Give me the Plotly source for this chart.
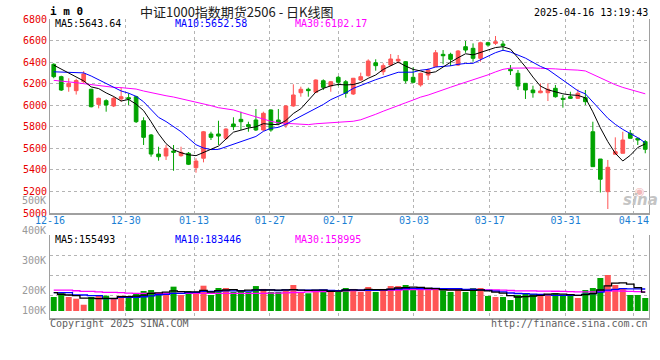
import plotly.graph_objects as go
import pandas as pd

# ---------------- data ----------------
dates = ["12-16", "12-17", "12-18", "12-19", "12-20", "12-23", "12-24", "12-25", "12-26", "12-27",
         "12-30", "12-31", "01-02", "01-03", "01-06", "01-07", "01-08", "01-09", "01-10", "01-13",
         "01-14", "01-15", "01-16", "01-17", "01-20", "01-21", "01-22", "01-23", "01-24", "01-27",
         "02-05", "02-06", "02-07", "02-10", "02-11", "02-12", "02-13", "02-14", "02-17", "02-18",
         "02-19", "02-20", "02-21", "02-24", "02-25", "02-26", "02-27", "02-28", "03-03", "03-04",
         "03-05", "03-06", "03-07", "03-10", "03-11", "03-12", "03-13", "03-14", "03-17", "03-18",
         "03-19", "03-20", "03-21", "03-24", "03-25", "03-26", "03-27", "03-28", "03-31", "04-01",
         "04-02", "04-03", "04-07", "04-08", "04-09", "04-10", "04-11", "04-14", "04-15", "04-16"]

open_ = [6380, 6265, 6172, 6135, 6218, 6148, 6008, 6042, 5993, 6058,
         6070, 6079, 5856, 5724, 5547, 5529, 5575, 5532, 5554, 5420,
         5508, 5733, 5733, 5693, 5826, 5869, 5820, 5863, 5770, 5956,
         5863, 5816, 5993, 6116, 6148, 6120, 6227, 6178, 6259, 6218,
         6104, 6234, 6274, 6394, 6311, 6373, 6410, 6404, 6259, 6188,
         6280, 6357, 6472, 6472, 6373, 6543, 6528, 6435, 6580, 6574,
         6568, 6333, 6296, 6203, 6141, 6116, 6116, 6157, 6064, 6079,
         6064, 6070, 5754, 5501, 5198, 5545, 5554, 5739, 5693, 5662]
high_ = [6389, 6274, 6250, 6245, 6317, 6152, 6070, 6055, 6079, 6166,
         6111, 6088, 5888, 5733, 5615, 5631, 5631, 5615, 5566, 5508,
         5761, 5754, 5856, 5786, 5888, 5940, 5847, 5965, 5940, 5962,
         5965, 6002, 6194, 6172, 6163, 6240, 6240, 6225, 6271, 6234,
         6253, 6302, 6426, 6426, 6389, 6475, 6466, 6410, 6352, 6302,
         6343, 6512, 6512, 6487, 6512, 6596, 6574, 6589, 6589, 6642,
         6596, 6373, 6327, 6203, 6181, 6203, 6203, 6188, 6095, 6125,
         6148, 6141, 5847, 5501, 5492, 5702, 5754, 5770, 5693, 5677]
low_ = [6250, 6132, 6125, 6099, 6203, 5980, 5971, 5940, 5983, 6033,
        6002, 5835, 5631, 5522, 5485, 5492, 5392, 5522, 5445, 5374,
        5470, 5677, 5631, 5677, 5770, 5770, 5754, 5761, 5761, 5754,
        5816, 5791, 5986, 6079, 6079, 6116, 6141, 6125, 6178, 6070,
        6095, 6227, 6265, 6320, 6280, 6364, 6389, 6203, 6203, 6172,
        6234, 6355, 6380, 6364, 6364, 6487, 6404, 6404, 6543, 6559,
        6506, 6280, 6141, 6058, 6070, 6111, 6039, 6070, 5977, 6058,
        6058, 6002, 5427, 5190, 5037, 5545, 5554, 5693, 5631, 5554]
close_ = [6265, 6141, 6203, 6229, 6290, 5986, 6064, 6002, 6064, 6079,
          6058, 5847, 5702, 5547, 5522, 5600, 5563, 5563, 5452, 5482,
          5754, 5702, 5714, 5779, 5801, 5847, 5801, 5770, 5925, 5770,
          5832, 5993, 6095, 6148, 6135, 6234, 6166, 6218, 6213, 6111,
          6250, 6265, 6410, 6367, 6367, 6429, 6426, 6227, 6213, 6296,
          6327, 6487, 6459, 6426, 6503, 6512, 6435, 6580, 6559, 6589,
          6552, 6320, 6178, 6141, 6116, 6132, 6148, 6079, 6055, 6064,
          6111, 6033, 5430, 5313, 5424, 5569, 5677, 5693, 5677, 5591]
volume_k = [116, 147, 116, 102, 52, 116, 127, 127, 102, 127,
            116, 147, 166, 174, 147, 147, 202, 133, 166, 147,
            210, 133, 191, 191, 158, 166, 158, 207, 183, 158,
            158, 174, 216, 158, 147, 174, 174, 166, 166, 191,
            183, 158, 199, 158, 183, 207, 207, 216, 174, 174,
            174, 191, 174, 158, 174, 158, 191, 191, 125, 116,
            116, 91, 133, 141, 141, 141, 141, 149, 125, 125,
            108, 174, 191, 274, 299, 216, 191, 133, 133, 108]

# moving-average values at the left edge (their windows start before the chart)
ma5_head = [6372, 6335, 6298, 6262]
ma10_head = [6310, 6308, 6306, 6304, 6300, 6271, 6235, 6198, 6162]
ma30_head = [6231, 6225, 6215, 6209, 6200, 6190, 6181, 6172, 6166, 6163,
             6160, 6150, 6132, 6116, 6101, 6088, 6076, 6061, 6046, 6030,
             6014, 5996, 5977, 5968, 5956, 5934, 5912, 5894, 5872]
vma5_head = [152, 139, 133, 127]
vma10_head = [152, 152, 152, 133, 133, 127, 127, 102, 102]
vma30_head = [174, 174, 174, 168, 163, 163, 158, 155, 155, 152,
              149, 147, 147, 147, 147, 147, 147, 147, 147, 147,
              147, 147, 147, 147, 147, 147, 147, 147, 147]

tick_labels = ["12-16", "12-30", "01-13", "01-27", "02-17", "03-03", "03-17", "03-31", "04-14"]
price_ticks = [5000, 5200, 5400, 5600, 5800, 6000, 6200, 6400, 6600, 6800]
vol_tick_labels = ["500K", "400K", "300K", "200K", "100K"]

title_text = "中证1000指数期货2506 - 日K线图"
code_text = "i m 0"
time_text = "2025-04-16 13:19:43"
ma_price_text = ["MA5:5643.64", "MA10:5652.58", "MA30:6102.17"]
ma_vol_text = ["MA5:155493", "MA10:183446", "MA30:158995"]

# ---------------- derived series ----------------
n = len(dates)
idx = list(range(n))
cs = pd.Series(close_, dtype=float)
vs = pd.Series(volume_k, dtype=float) * 1000


def with_head(series, win, head):
    m = series.rolling(win).mean().tolist()
    m[:len(head)] = head
    return m


ma5 = with_head(cs, 5, ma5_head)
ma10 = with_head(cs, 10, ma10_head)
ma30 = with_head(cs, 30, ma30_head)
vma5 = with_head(vs, 5, [v * 1000 for v in vma5_head])
vma10 = with_head(vs, 10, [v * 1000 for v in vma10_head])
vma30 = with_head(vs, 30, [v * 1000 for v in vma30_head])

UP = "#ff5555"
DOWN = "#00a300"
GRID = "#b4b4b4"
BORDER = "#a0a0a0"
MONO = "DejaVu Sans Mono"
colors = [UP if c >= o else DOWN for o, c in zip(open_, close_)]
tick_idx = [dates.index(t) for t in tick_labels]

# ---------------- layout geometry ----------------
W, H = 660, 360
ML, MR, MT, MB = 50, 11, 19, 42
PW, PH = W - ML - MR, H - MT - MB


def px(x):
    return (x - ML) / PW


def py(y):
    return (H - MB - y) / PH


price_dom = [py(213), 1.0]
vol_dom = [0.0, py(235)]

fig = go.Figure()

fig.add_trace(go.Candlestick(
    x=idx, open=open_, high=high_, low=low_, close=close_,
    increasing=dict(line=dict(color=UP, width=1), fillcolor=UP),
    decreasing=dict(line=dict(color=DOWN, width=1), fillcolor=DOWN),
    whiskerwidth=0, xaxis="x", yaxis="y", hoverinfo="skip", showlegend=False))

for vals, col in [(ma30, "#ff00ff"), (ma10, "#0000ff"), (ma5, "#000000")]:
    fig.add_trace(go.Scatter(x=idx, y=vals, mode="lines", line=dict(color=col, width=1),
                             xaxis="x", yaxis="y", hoverinfo="skip", showlegend=False))

fig.add_trace(go.Bar(x=idx, y=vs, marker=dict(color=colors, line=dict(width=0)), width=0.8,
                     xaxis="x2", yaxis="y2", hoverinfo="skip", showlegend=False))
for vals, col in [(vma30, "#ff00ff"), (vma10, "#0000ff"), (vma5, "#000000")]:
    fig.add_trace(go.Scatter(x=idx, y=vals, mode="lines", line=dict(color=col, width=1.3, shape="hvh"),
                             xaxis="x2", yaxis="y2", hoverinfo="skip", showlegend=False))

# carriers for the grid / label axes
fig.add_trace(go.Scatter(x=[0, n - 1], y=[None, None], mode="lines", xaxis="x3", yaxis="y",
                         hoverinfo="skip", showlegend=False))
fig.add_trace(go.Scatter(x=[0, n - 1], y=[None, None], mode="lines", xaxis="x4", yaxis="y4",
                         hoverinfo="skip", showlegend=False))

common_x = dict(showgrid=False, zeroline=False, showticklabels=False, ticks="",
                fixedrange=True)
fig.update_layout(
    width=W, height=H, margin=dict(l=ML, r=MR, t=MT, b=MB, pad=0),
    paper_bgcolor="white", plot_bgcolor="white", showlegend=False,
    xaxis=dict(domain=[0, 1], range=[-0.5, n - 0.5], anchor="y",
               showline=True, linecolor=BORDER, linewidth=2,
               rangeslider=dict(visible=False), **common_x),
    xaxis2=dict(domain=[0, 1], range=[-0.5, n - 0.5], anchor="y2",
                showline=True, linecolor=BORDER, linewidth=2, **common_x),
    xaxis3=dict(overlaying="x", anchor="y", side="bottom", range=[0, n - 1],
                tickvals=tick_idx, ticktext=tick_labels, showgrid=True, gridcolor=GRID,
                griddash="dot", gridwidth=1, zeroline=False, ticks="", showline=False,
                tickfont=dict(family=MONO, size=10, color="#1b7fd4"), fixedrange=True),
    xaxis4=dict(overlaying="x2", anchor="y2", range=[0, n - 1], tickvals=tick_idx,
                showgrid=True, gridcolor=GRID, griddash="dot", gridwidth=1, zeroline=False,
                ticks="", showticklabels=False, showline=False, fixedrange=True),
    yaxis=dict(domain=price_dom, range=[5000, 6800], tickvals=price_ticks, anchor="x",
               showgrid=True, gridcolor=GRID, griddash="dot", gridwidth=1, zeroline=False,
               ticks="", showline=True, mirror=True, linecolor=BORDER, linewidth=1,
               tickfont=dict(family=MONO, size=10, color="#e80000"), fixedrange=True),
    yaxis2=dict(domain=vol_dom, range=[-58100, 630800], anchor="x2", showgrid=False,
                zeroline=False, showticklabels=False, ticks="", showline=True, mirror=True,
                linecolor=BORDER, linewidth=1, fixedrange=True),
    yaxis4=dict(overlaying="y2", anchor="x2", range=[0, 83], tickvals=[23, 43, 63, 83],
                showgrid=True, gridcolor=GRID, griddash="dot", gridwidth=1, zeroline=False,
                ticks="", showticklabels=False, showline=False, fixedrange=True),
)

anns = []


def ann(text, x, y, color, size=10, family=MONO, xanchor="left", weight="normal", style="normal"):
    anns.append(dict(text=text, x=px(x), y=py(y), xref="paper", yref="paper",
                     xanchor=xanchor, yanchor="middle", showarrow=False, borderpad=0,
                     font=dict(family=family, size=size, color=color, weight=weight, style=style)))


ann(code_text, 49, 11, "#000000", size=11, weight="bold")
ann(title_text, 139, 11, "#202020", size=13, family="Noto Sans CJK SC")
ann(time_text, 649, 12, "#000000", xanchor="right")
for t, x, c in zip(ma_price_text, [54, 174, 294], ["#000000", "#0000ff", "#ff00ff"]):
    ann(t, x, 24, c)
for t, x, c in zip(ma_vol_text, [54, 174, 294], ["#000000", "#0000ff", "#ff00ff"]):
    ann(t, x, 240, c)
for t, y in zip(vol_tick_labels, [200.5, 230.5, 260, 290.5, 310.5]):
    ann(t, 47, y, "#999999", xanchor="right")
ann("Copyright 2025 SINA.COM", 49, 323.5, "#606060")
ann("http://finance.sina.com.cn", 649, 323.5, "#606060", xanchor="right")
ann("◉", 634, 191, "#f2b8b8", size=11, family="DejaVu Sans")
ann("sina", 640, 200, "#c4c4c4", size=15, family="DejaVu Sans", xanchor="center",
    weight="bold", style="italic")

fig.update_layout(annotations=anns)
fig.write_html("out.html", config={"displayModeBar": False, "staticPlot": True},
               post_script="document.body.style.margin='0';document.body.style.padding='0';")
